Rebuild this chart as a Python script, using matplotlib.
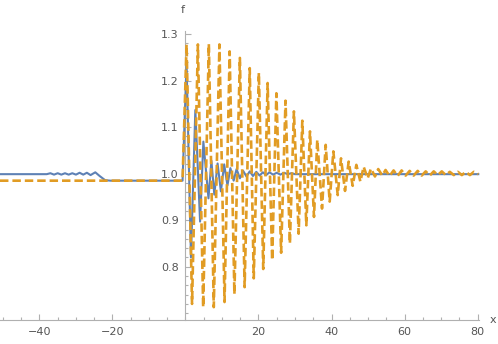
import matplotlib
matplotlib.use("Agg")
import matplotlib.pyplot as plt
import numpy as np
from matplotlib.ticker import FixedLocator

# Orange dashed curve: extrema
orange_x = [-50.8, -0.8, 0.3, 1.8, 3.4, 4.85, 6.4, 7.75, 9.3, 10.7, 12.1, 13.4,
            14.9, 16.2, 17.6, 18.7, 20.1, 21.3, 22.5, 23.75, 24.9, 26.2, 27.4,
            28.6, 29.7, 31.0, 32.0, 33.1, 34.1, 35.2, 36.1, 37.4, 38.4, 39.5,
            40.5, 41.7, 42.6, 43.7, 44.7, 45.8, 46.8, 47.9, 48.8, 49.9, 50.8,
            51.9, 52.8, 53.9, 54.8, 55.9, 57.0, 58.1, 59.2, 60.3, 61.4, 62.5,
            63.6, 64.7, 65.8, 66.9, 68.0, 69.1, 70.2, 71.3, 72.4, 73.5, 74.6,
            75.7, 76.8, 77.9, 79.0, 80.2]
orange_y = [0.985, 0.985, 1.278, 0.720, 1.278, 0.713, 1.279, 0.713, 1.278, 0.724,
            1.263, 0.741, 1.249, 0.756, 1.227, 0.775, 1.217, 0.795, 1.195, 0.814,
            1.173, 0.830, 1.157, 0.850, 1.134, 0.871, 1.114, 0.889, 1.091, 0.907,
            1.073, 0.925, 1.062, 0.940, 1.048, 0.954, 1.033, 0.963, 1.026, 0.974,
            1.019, 0.983, 1.015, 0.990, 1.011, 0.994, 1.010, 0.996, 1.008, 0.995,
            1.007, 0.995, 1.007, 0.996, 1.006, 0.996, 1.006, 0.996, 1.005, 0.996,
            1.005, 0.997, 1.005, 0.997, 1.004, 0.997, 1.004, 0.997, 1.004, 0.997,
            1.004, 0.999]

# Blue solid curve
blue_x = [-50.8, -38, -37, -36, -35, -34, -33, -32, -31, -30, -29, -28, -27, -26,
          -24.7, -23.5, -22.0, -20.5, -0.8, 0.3, 1.5, 2.7, 4.0, 4.9, 6.3, 7.1, 7.9,
          8.8, 9.7, 10.6, 11.5, 12.3, 13.2, 14.0, 14.9, 15.8, 16.7, 17.6, 18.5,
          19.4, 20.3, 21.2, 22.1, 23.0, 24.0, 25.0, 26.0, 27.0, 28.0, 29.0, 30.0,
          80.2]
blue_y = [0.999, 0.999, 1.001, 0.998, 1.001, 0.998, 1.001, 0.998, 1.001, 0.998,
          1.002, 0.998, 1.002, 0.997, 1.003, 0.995, 0.986, 0.985, 0.985, 1.238,
          0.820, 1.137, 0.897, 1.069, 0.947, 1.028, 0.955, 1.022, 0.962, 1.020,
          0.975, 1.012, 0.985, 1.010, 0.990, 1.006, 0.994, 1.005, 0.995, 1.004,
          0.996, 1.003, 0.997, 1.003, 0.998, 1.002, 0.998, 1.002, 0.999, 1.001,
          0.999, 0.999]

x_ticks = [-40, -20, 20, 40, 60, 80]
x_labels = ["\u221240", "\u221220", "20", "40", "60", "80"]
y_ticks = [0.8, 0.9, 1.0, 1.1, 1.2, 1.3]
y_labels = ["0.8", "0.9", "1.0", "1.1", "1.2", "1.3"]

BLUE = "#5E81B5"
ORANGE = "#E19C24"
AX = "#b0b0b0"
TXT = "#555555"

fig = plt.figure(figsize=(4.98, 3.44), dpi=100)
ax = fig.add_axes([0, 0, 1, 1])
ax.set_xlim(-50.8, 85.6)
ax.set_ylim(0.6338, 1.3735)

ax.plot(blue_x, blue_y, color=BLUE, lw=1.5, solid_joinstyle="round", zorder=3)
ax.plot(orange_x, orange_y, color=ORANGE, lw=1.9, linestyle=(0, (3.2, 1.5)), zorder=4)

for s in ["top", "right"]:
    ax.spines[s].set_visible(False)
ax.spines["left"].set_position(("data", 0))
ax.spines["bottom"].set_position(("data", 0.685))
ax.spines["left"].set_bounds(0.685, 1.307)
ax.spines["bottom"].set_bounds(-50.8, 80.4)
for s in ["left", "bottom"]:
    ax.spines[s].set_color(AX)
    ax.spines[s].set_linewidth(0.8)
    ax.spines[s].set_zorder(1)

ax.xaxis.set_major_locator(FixedLocator(x_ticks))
ax.xaxis.set_minor_locator(FixedLocator(list(range(-50, 81, 5))))
ax.yaxis.set_major_locator(FixedLocator(y_ticks))
ax.yaxis.set_minor_locator(FixedLocator([round(0.70 + 0.02 * i, 2) for i in range(31)]))
ax.set_xticklabels(x_labels)
ax.set_yticklabels(y_labels)

ax.tick_params(which="both", direction="in", color=AX, width=0.8)
ax.tick_params(which="major", length=4.5, labelsize=8, labelcolor=TXT, pad=5)
ax.tick_params(which="minor", length=2.5)

ax.text(-0.7, 1.352, "f", ha="center", va="center", fontsize=8, color=TXT)
ax.text(84.2, 0.686, "x", ha="center", va="center", fontsize=8, color=TXT)

fig.savefig("out.png", dpi=100)
